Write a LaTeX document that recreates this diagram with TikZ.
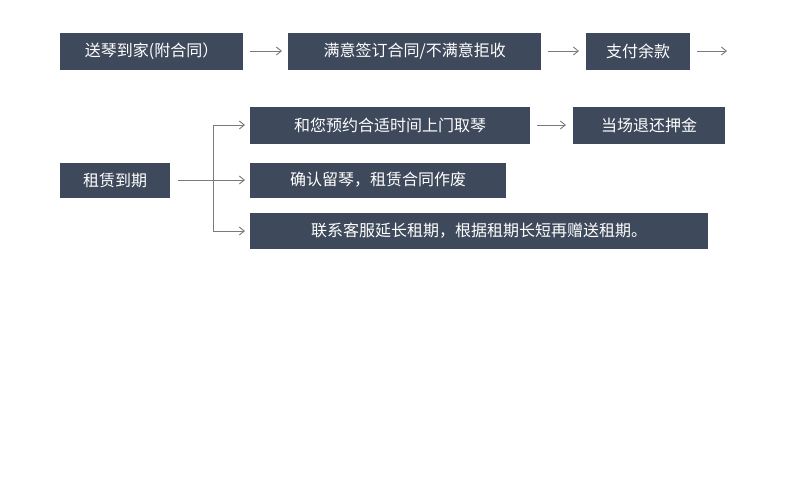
\documentclass[tikz,border=0pt]{standalone}
\usepackage{fontspec}
\setmainfont{Noto Sans CJK SC}
\usetikzlibrary{arrows.meta}
\definecolor{boxc}{HTML}{3E495B}
\definecolor{arrc}{HTML}{7A7A7A}
\tikzset{
 box/.style={fill=boxc,text=white,font=\fontsize{16}{18}\selectfont,anchor=west,inner sep=0pt,minimum height=37pt,align=center},
 arr/.style={draw=arrc,line width=0.9pt,-{Straight Barb[length=5pt,width=8pt]}}
}
\begin{document}
\begin{tikzpicture}[x=1pt,y=-1pt]
\useasboundingbox (0,0) rectangle (790,490);
\node[box,minimum width=183pt] (a) at (60,51) {送琴到家(附合同）};
\node[box,minimum width=253pt] (b) at (288,51) {满意签订合同/不满意拒收};
\node[box,minimum width=104pt] (c) at (586,51) {支付余款};
\coordinate (cend) at (727,51);
\node[box,minimum width=110pt,minimum height=35pt] (d) at (60,180) {租赁到期};
\node[box,minimum width=280pt] (e) at (250,125) {和您预约合适时间上门取琴};
\node[box,minimum width=152pt] (f) at (573,125) {当场退还押金};
\node[box,minimum width=256pt,minimum height=35pt] (g) at (250,180) {确认留琴，租赁合同作废};
\node[box,minimum width=458pt,minimum height=36pt] (h) at (250,231) {联系客服延长租期，根据租期长短再赠送租期。};
\draw[arr] ([xshift=7pt]a.east) -- ([xshift=-6pt]b.west);
\draw[arr] ([xshift=7pt]b.east) -- ([xshift=-7pt]c.west);
\draw[arr] ([xshift=7pt]c.east) -- (cend);
\draw[arr] ([xshift=7pt]e.east) -- ([xshift=-7pt]f.west);
\coordinate (j) at (213,180);
\draw[draw=arrc,line width=0.9pt] ([xshift=8pt]d.east) -- (j);
\draw[arr] (j) |- ([xshift=-5pt]e.west);
\draw[arr] (j) -- ([xshift=-5pt]g.west);
\draw[arr] (j) |- ([xshift=-5pt]h.west);
\end{tikzpicture}
\end{document}
